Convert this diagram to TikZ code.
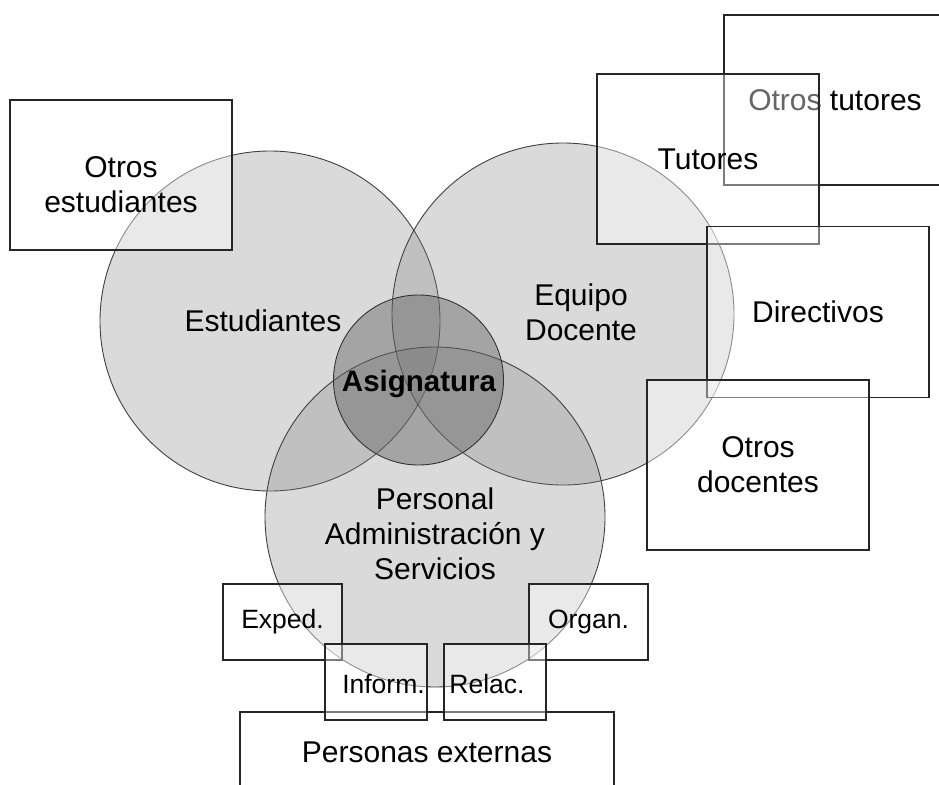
\documentclass[tikz,border=0pt]{standalone}
\usepackage{fontspec}
\setmainfont{Liberation Sans}
\usetikzlibrary{positioning}
\tikzset{
  grupo/.style={
    circle, draw=black!75, line width=0.9pt,
    fill=black!50, fill opacity=0.29, inner sep=0pt
  },
  nucleo/.style={
    circle, draw=black!80, line width=0.9pt,
    fill=black!60, fill opacity=0.46, inner sep=0pt
  },
  etiqueta/.style={
    align=center, inner sep=0pt, font=\fontsize{30}{35}\selectfont
  },
  etiquetita/.style={
    etiqueta, font=\fontsize{26.5}{32}\selectfont
  },
  caja/.style={
    rectangle, draw=black!85, line width=1.1pt,
    fill=white, fill opacity=0.4, text opacity=1,
    minimum width=222pt, inner sep=0pt,
    align=center, font=\fontsize{30}{35}\selectfont
  },
  cajita/.style={
    caja, minimum width=119pt, minimum height=76pt,
    font=\fontsize{26.5}{32}\selectfont
  }
}

\begin{document}
\begin{tikzpicture}[x=1pt, y=-1pt]
  \useasboundingbox (0,0) rectangle (939,784);
  \clip (0,0) rectangle (939,784);

  \node[grupo, minimum size=340pt] (est) at (270,321) {};
  \node[grupo, minimum size=342pt] (eq) at (563,314) {};
  \node[grupo, minimum size=340pt] (pas) at (435,517) {};
  \node[nucleo, minimum size=170pt] (asig) at (418.5,380) {};

  \node[etiqueta, font=\fontsize{29.5}{35}\selectfont\bfseries] (txtAsig) at (419,384) {Asignatura};
  \node[etiqueta] (txtEst) at (263,321) {Estudiantes};
  \node[etiqueta] (txtEq) at (581,312) {Equipo\\Docente};
  \node[etiqueta] (txtPas) at (435,534) {Personal\\Administración y\\Servicios};

  \node[caja, minimum height=150pt] (otrosEst) at (121,175) {};
  \node[etiqueta] (txtOtrosEst) at (121,185) {Otros\\estudiantes};
  \node[caja, minimum height=170pt] (otrosTut) at (835,100) {Otros tutores};
  \node[caja, minimum height=170pt] (tut) at (708,159) {Tutores};
  \node[caja, minimum height=171pt] (dir) at (818,312) {Directivos};
  \node[caja, minimum height=170pt] (otrosDoc) at (758,465) {Otros\\docentes};

  \node[cajita] (exped) at (282.5,622) {Exped.};
  \node[cajita] (organ) at (588.5,622) {Organ.};
  \node[caja, minimum width=374pt, minimum height=80pt] (ext) at (427,752) {Personas externas};
  \node[cajita, minimum width=102pt] (inform) at (376,682) {};
  \node[cajita, minimum width=102pt] (relac) at (495,682) {};
  \node[etiquetita] (txtInform) at (383.5,684) {Inform.};
  \node[etiquetita] (txtRelac) at (487,684) {Relac.};
\end{tikzpicture}
\end{document}
